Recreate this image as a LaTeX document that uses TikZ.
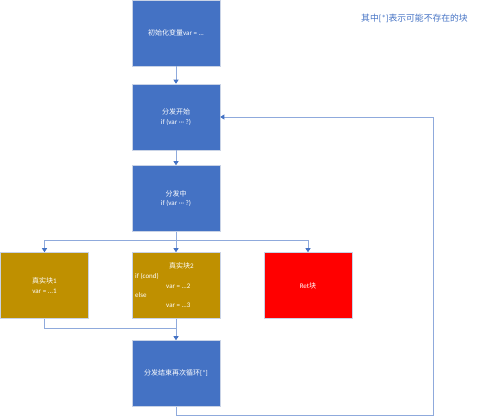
\documentclass[tikz,border=0pt]{standalone}
\usepackage{fontspec}
\setmainfont{Carlito}
\newfontfamily\cjk{Noto Sans CJK SC}
\usepackage{tikz}
\usetikzlibrary{arrows.meta}
\definecolor{boxblue}{HTML}{4472C4}
\definecolor{boxgold}{HTML}{BF9000}
\definecolor{lineblue}{HTML}{8FAADC}
\definecolor{edgegray}{HTML}{C9D3E6}
\tikzset{>=stealth}
\tikzset{
  blk/.style={draw=edgegray, line width=0.6pt, minimum width=88pt, minimum height=66pt,
    inner sep=0pt, text=white, font=\fontsize{7}{9.5}\selectfont, align=center},
  blueblk/.style={blk, fill=boxblue},
  goldblk/.style={blk, fill=boxgold},
  redblk/.style={blk, fill=red},
  txt/.style={text=white, font=\fontsize{7}{9}\selectfont, inner sep=0pt, anchor=west},
  flow/.style={draw=lineblue, line width=0.8pt},
  flowarr/.style={flow, -{Triangle[length=4pt,width=5pt,color=boxblue]}}
}

\begin{document}
\begin{tikzpicture}[x=1pt,y=-1pt]
      \useasboundingbox (0,0) rectangle (479,417);
      % boxes
      \node[blueblk] (init) at (176,33) {{\cjk 初始化变量}var = ...};
      \node[blueblk] (start) at (176,117) {{\cjk 分发开始}\\if (var ··· ?)};
      \node[blueblk] (mid) at (176,198.5) {{\cjk 分发中}\\if (var ··· ?)};
      \node[goldblk] (true1) at (44.5,285.5) {{\cjk 真实块}1\\var = ...1};
      \node[goldblk] (true2) at (176,285.5) {};
      \node[redblk] (ret) at (308,285.5) {Ret{\cjk 块}};
      \node[blueblk] (loopend) at (176,373.5) {{\cjk 分发结束再次循环}[*]};
      % text of the second true block
      \node[txt] (t2title) at (169,266) {{\cjk 真实块}2};
      \node[txt] (t2if) at (135,276) {if (cond)};
      \node[txt] (t2a) at (166,286) {var = ...2};
      \node[txt] (t2else) at (135,295) {else};
      \node[txt] (t2b) at (166,305) {var = ...3};
      % note
      \node[anchor=west, inner sep=0pt, text=boxblue, font=\fontsize{8.8}{10}\selectfont] (note) at (361,18)
        {{\cjk 其中}[*]{\cjk 表示可能不存在的块}};
      % connectors
      \coordinate (split) at (176,240);
      \coordinate (join) at (176,328);
      \coordinate (back) at (433,415);
      \draw[flowarr] (init) -- (start);
      \draw[flowarr] (start) -- (mid);
      \draw[flow] (mid.south) -- (split);
      \draw[flowarr] (split) -| (true1.north);
      \draw[flowarr] (split) -- (true2.north);
      \draw[flowarr] (split) -| (ret.north);
      \draw[flow] (true1.south) |- (join);
      \draw[flowarr] (true2.south) -- (loopend.north);
      \draw[flowarr] (loopend.south) |- (back) |- (start.east);
    \end{tikzpicture}
\end{document}
